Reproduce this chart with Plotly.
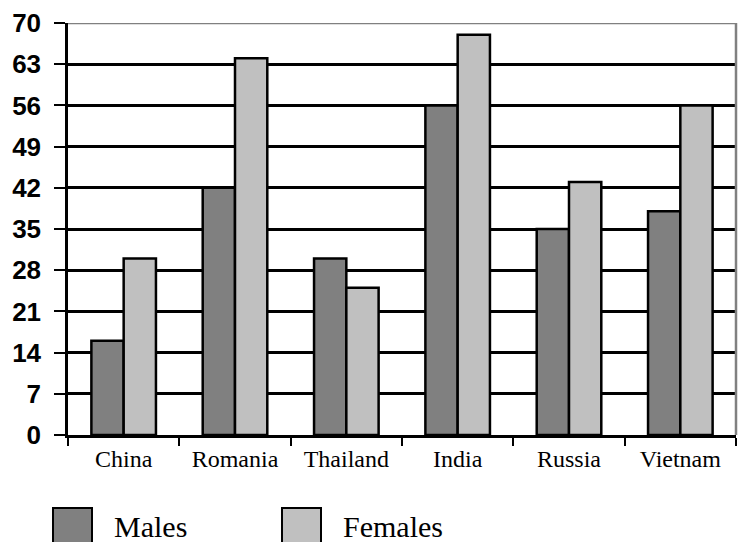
import plotly.graph_objects as go

# Survey results by country and sex
countries = ["China", "Romania", "Thailand", "India", "Russia", "Vietnam"]
males = [16, 42, 30, 56, 35, 38]
females = [30, 64, 25, 68, 43, 56]
y_ticks = [0, 7, 14, 21, 28, 35, 42, 49, 56, 63, 70]

MALE_COLOR = "#808080"
FEMALE_COLOR = "#C0C0C0"

fig = go.Figure()
fig.add_trace(go.Bar(x=countries, y=males, name="Males",
                     marker=dict(color=MALE_COLOR, line=dict(color="black", width=2.5))))
fig.add_trace(go.Bar(x=countries, y=females, name="Females",
                     marker=dict(color=FEMALE_COLOR, line=dict(color="black", width=2.5))))

# plot area in pixels, used to place the legend boxes in paper coordinates
L, R, T, B = 68, 736, 23, 435
W, H = R - L, B - T


def px(x):
    return (x - L) / W


def py(y):
    return (B - y) / H


shapes = [
    # grey frame on top and right
    dict(type="line", xref="paper", yref="y", x0=0, x1=1, y0=70, y1=70,
         line=dict(color="#808080", width=2.5), layer="above"),
    dict(type="line", xref="paper", yref="paper", x0=1, x1=1, y0=0, y1=1,
         line=dict(color="#808080", width=2.5), layer="above"),
]

annotations = []
legend_items = [("Males", MALE_COLOR, 53), ("Females", FEMALE_COLOR, 282)]
for label, color, x0 in legend_items:
    shapes.append(dict(type="rect", xref="paper", yref="paper",
                       x0=px(x0), x1=px(x0 + 39), y0=py(547), y1=py(508),
                       fillcolor=color, line=dict(color="black", width=2)))
    annotations.append(dict(text=label, xref="paper", yref="paper",
                            x=px(x0 + 59), y=py(526), xanchor="left", yanchor="middle",
                            showarrow=False,
                            font=dict(family="Liberation Serif", size=30, color="black")))

fig.update_layout(
    width=740, height=542,
    margin=dict(l=L, r=740 - R, t=T, b=542 - B),
    paper_bgcolor="white", plot_bgcolor="white",
    barmode="group", bargap=0.42, bargroupgap=0,
    showlegend=False,
    shapes=shapes, annotations=annotations,
    xaxis=dict(
        type="category", tickson="boundaries", ticks="outside", ticklen=8,
        tickwidth=2, tickcolor="black", showline=True, linecolor="black", linewidth=2.5,
        showgrid=False,
        tickfont=dict(family="Liberation Serif", size=24, color="black"),
    ),
    yaxis=dict(
        range=[0, 70], tickvals=y_ticks, ticktext=[str(v) for v in y_ticks],
        ticks="outside", ticklen=11, tickwidth=2, tickcolor="black",
        showline=True, linecolor="black", linewidth=2.5,
        showgrid=True, gridcolor="black", gridwidth=2.5, zeroline=False,
        ticklabelstandoff=8,
        tickfont=dict(family="Liberation Sans", size=26, color="black", weight=700),
    ),
)

fig.write_html("out.html")
